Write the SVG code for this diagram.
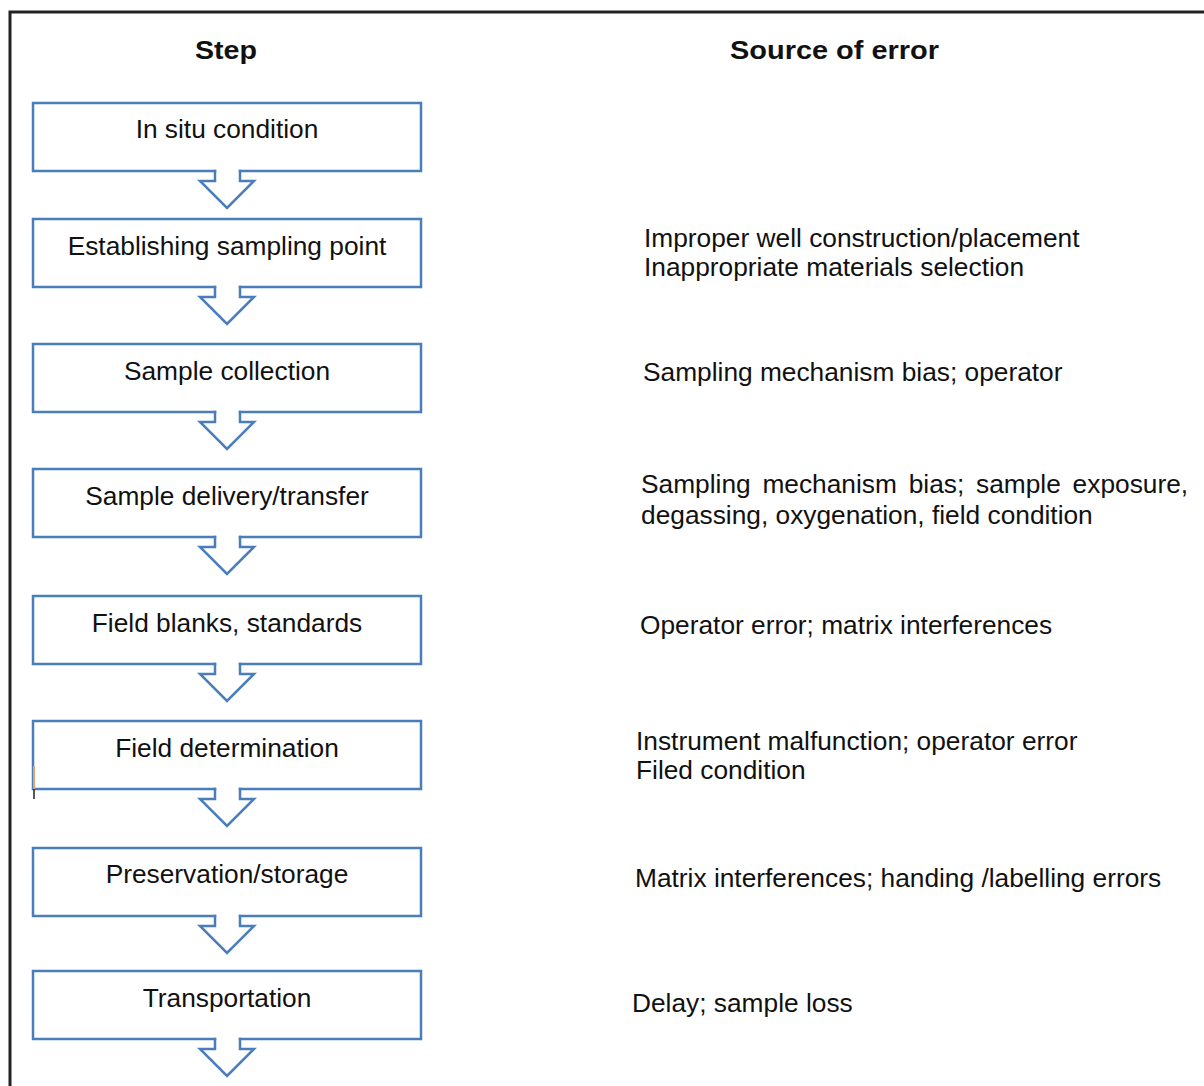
<svg xmlns="http://www.w3.org/2000/svg" width="1204" height="1086" viewBox="0 0 1204 1086">
<style>
.bg{fill:#ffffff}
.frame{fill:none;stroke:#222222;stroke-width:3}
.box{fill:none;stroke:#4a7ebb;stroke-width:2.5;stroke-linejoin:miter;stroke-linecap:square}
.arr{fill:none;stroke:#4a7ebb;stroke-width:2.5;stroke-linejoin:miter;stroke-linecap:square}
.hd{font-family:"Liberation Sans",Arial,sans-serif;font-weight:bold;font-size:25px;fill:#111}
.t{font-family:"Liberation Sans",Arial,sans-serif;font-size:26.3px;fill:#111}
.c{text-anchor:middle}
</style>
<rect class="bg" x="0" y="0" width="1204" height="1086"/>
<path class="frame" d="M10,1086 V12 H1204"/>
<text class="hd c" x="226" y="59" textLength="62" lengthAdjust="spacingAndGlyphs">Step</text>
<text class="hd" x="730" y="59" textLength="209" lengthAdjust="spacingAndGlyphs">Source of error</text>

<g id="node1">
<path class="box" d="M215,171 H33 V103 H421 V171 H240"/>
<text class="t c" x="227" y="138">In situ condition</text>
</g>
<g id="node2">
<path class="box" d="M215,287 H33 V219 H421 V287 H240"/>
<text class="t c" x="227" y="255">Establishing sampling point</text>
<text class="t" x="644" y="247">Improper well construction/placement</text>
<text class="t" x="644" y="276">Inappropriate materials selection</text>
</g>
<g id="node3">
<path class="box" d="M215,412 H33 V344 H421 V412 H240"/>
<text class="t c" x="227" y="380">Sample collection</text>
<text class="t" x="643" y="381">Sampling mechanism bias; operator</text>
</g>
<g id="node4">
<path class="box" d="M215,537 H33 V469 H421 V537 H240"/>
<text class="t c" x="227" y="505">Sample delivery/transfer</text>
<text class="t" x="641" y="493" word-spacing="4.5">Sampling mechanism bias; sample exposure,</text>
<text class="t" x="641" y="524">degassing, oxygenation, field condition</text>
</g>
<g id="node5">
<path class="box" d="M215,664 H33 V596 H421 V664 H240"/>
<text class="t c" x="227" y="632">Field blanks, standards</text>
<text class="t" x="640" y="634">Operator error; matrix interferences</text>
</g>
<g id="node6">
<path class="box" d="M215,789 H33 V721 H421 V789 H240"/>
<line x1="34" y1="766" x2="34" y2="789" stroke="#e3a36f" stroke-width="2"/>
<line x1="34" y1="789" x2="34" y2="799" stroke="#222" stroke-width="1.5"/>
<text class="t c" x="227" y="757">Field determination</text>
<text class="t" x="636" y="750">Instrument malfunction; operator error</text>
<text class="t" x="636" y="779">Filed condition</text>
</g>
<g id="node7">
<path class="box" d="M215,916 H33 V848 H421 V916 H240"/>
<text class="t c" x="227" y="883">Preservation/storage</text>
<text class="t" x="635" y="887">Matrix interferences; handing /labelling errors</text>
</g>
<g id="node8">
<path class="box" d="M215,1039 H33 V971 H421 V1039 H240"/>
<text class="t c" x="227" y="1007">Transportation</text>
<text class="t" x="632" y="1012">Delay; sample loss</text>
</g>

<g id="connectors">
<path class="arr" d="M215,171 V181 H200 L227,208 L254,181 H240 V171"/>
<path class="arr" d="M215,287 V297 H200 L227,324 L254,297 H240 V287"/>
<path class="arr" d="M215,412 V422 H200 L227,449 L254,422 H240 V412"/>
<path class="arr" d="M215,537 V547 H200 L227,574 L254,547 H240 V537"/>
<path class="arr" d="M215,664 V674 H200 L227,701 L254,674 H240 V664"/>
<path class="arr" d="M215,789 V799 H200 L227,826 L254,799 H240 V789"/>
<path class="arr" d="M215,916 V926 H200 L227,953 L254,926 H240 V916"/>
<path class="arr" d="M215,1039 V1049 H200 L227,1076 L254,1049 H240 V1039"/>
</g>
</svg>
